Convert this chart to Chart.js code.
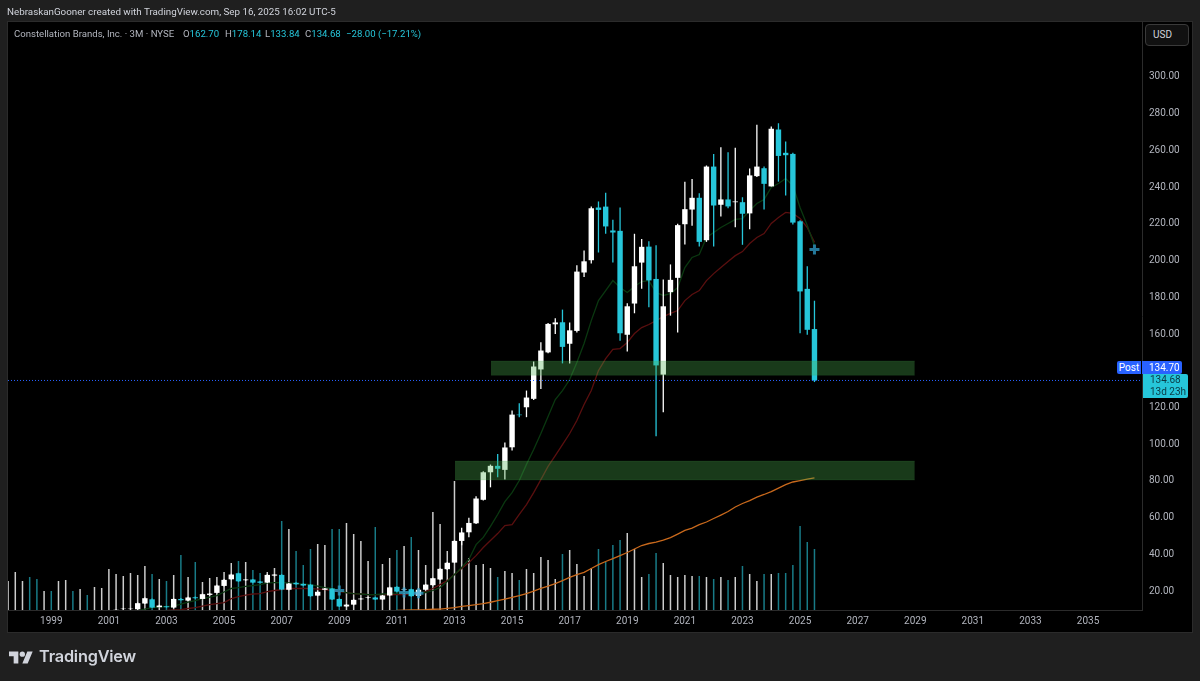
<!DOCTYPE html>
<html><head><meta charset="utf-8">
<script src="https://cdn.jsdelivr.net/npm/chart.js@4"></script>
<style>
html,body{margin:0;padding:0;width:1200px;height:681px;background:#1f1f1f;overflow:hidden;font-family:Roboto,sans-serif}
.a{position:absolute;white-space:pre;line-height:1}
#pane{position:absolute;left:7px;top:21px;width:1184px;height:610px;background:#000;border:1px solid #2b2b2b}
canvas{position:absolute;left:0;top:0}
.t{color:#26c6da}
</style></head><body>
<div id="pane"></div>
<canvas id="c" width="1200" height="681"></canvas>
<div class="a" style="left:7px;top:7px;font-size:9.8px;color:#d1d4dc">NebraskanGooner created with TradingView.com, Sep 16, 2025 16:02 UTC-5</div>
<div class="a" style="left:14px;top:29px;font-size:9.6px;color:#b2b5be">Constellation Brands, Inc. · 3M · NYSE</div>
<div class="a" style="left:183px;top:29px;font-size:9.6px;color:#b2b5be">O<span class="t">162.70</span></div>
<div class="a" style="left:225px;top:29px;font-size:9.6px;color:#b2b5be">H<span class="t">178.14</span></div>
<div class="a" style="left:265px;top:29px;font-size:9.6px;color:#b2b5be">L<span class="t">133.84</span></div>
<div class="a" style="left:305px;top:29px;font-size:9.6px;color:#b2b5be">C<span class="t">134.68</span></div>
<div class="a t" style="left:346px;top:29px;font-size:9.6px">−28.00 (−17.21%)</div>
<div class="a" style="left:1145px;top:24px;width:42px;height:20px;border:1px solid #3a3a3a;border-radius:4px;background:#111;color:#d1d4dc;font-size:10px;line-height:20px;text-indent:7px">USD</div>
<div class="a" style="left:1117px;top:361px;width:24px;height:12.5px;background:#2962ff;border-radius:2px 0 0 2px;color:#fff;font-size:10px;line-height:13px;text-align:center">Post</div>
<div class="a" style="left:1142px;top:361px;width:33px;padding-left:7px;height:12.5px;background:#2962ff;border-radius:0 2px 2px 0;color:#fff;font-size:10px;line-height:13px">134.70</div>
<div class="a" style="left:1143px;top:374px;width:38px;padding-left:7px;height:24px;background:#26c6da;border-radius:0 2px 2px 0;color:#0b3a44;font-size:10px;line-height:12px">134.68
13d 23h</div>
<svg class="a" style="left:9px;top:650px" width="24" height="15" viewBox="0 4 36 18"><path fill="#d1d4dc" d="M14 22H7V11H0V4h14v18zM28 22h-8l7.5-18h8L28 22z"/><circle fill="#d1d4dc" cx="20" cy="8" r="4"/></svg>
<div class="a" style="left:39px;top:648px;font-family:Inter,sans-serif;font-weight:600;font-size:16.3px;letter-spacing:-.2px;color:#d1d4dc">TradingView</div>
<script>
const firstYear = 1997.5;
const candleFirstYear = 2001.25;
const volumeM = [7.25,9.5,7.25,8.25,7.75,4.75,4.75,7.25,7.5,4.75,5.25,3.75,5.75,5.5,10.25,9,8.5,9.25,8.75,11,9,7.75,7.25,8.75,13.75,8.25,12,7,8,8.25,9.5,11.75,12.25,12,10,9.25,9.5,10.5,
22.25,20.25,14.75,11.25,15.25,16.5,16.25,20.25,20.25,21.75,19,17.25,12.25,20.75,11.5,13,15,16,18.25,15,11.25,24.5,21.5,14.75,32.25,
19.5,13,11.25,11.5,10.5,8.25,9.75,9.25,7.5,10.25,9.25,13.25,12.5,7.75,14,15,11.5,8.5,10.5,15.25,12,16.25,17.5,19.25,15.25,8.25,9,14.25,11.75,8.75,8.25,8.75,8.5,8.5,8.25,7.75,8.25,7.5,8.25,11,9,7.25,9,9,9.25,9.25,11.25,21,17,15.25];
const earlyVolumeDown = [0,0,0,1,1,0,1,0,0,1,0,1,0,0,0];
const open = [9.6,10.2,10.2,10.1,13.2,15.5,11.2,11.7,11,15.7,14.8,16.6,15.7,17.9,19,22.8,26.4,29.7,25.9,26.3,25.2,24.6,28.4,28.8,20.7,24.5,23.9,23.5,17.5,20.7,21.4,15.7,11.6,12.6,15.5,16.3,16.5,15.4,17.6,22.3,20.7,21,17.4,20.7,23.2,26.3,31.9,35.5,47.3,52,56.9,69.7,84.7,88.2,86,98.3,116.1,120.1,124.7,140.7,150,165.3,166.4,154.7,161.7,193.5,200.2,228.9,229.4,216.4,216.2,159.6,176.6,198.9,207.6,190,137.9,182.8,190.6,219.8,227.8,234.2,211.1,251.2,230.4,233.3,231.8,231.8,225.7,246,250.3,240.4,271.4,258.7,258.1,221.4,184.6,162.7];
const high = [9.9,10.6,10.6,13.8,16.5,16,12.5,12,16,16.2,16.9,17,18.6,18.9,23.4,26.5,29.4,30,26.6,26.6,25.5,29.1,29.3,29.1,24.4,24.8,24.2,23.8,19.9,21.7,21.7,16,12.9,15.5,16.2,16.9,16.8,17.9,22.3,22.6,21.5,21.3,21,23.8,27.3,32.4,35.8,47.7,54.5,59.9,71.6,85.3,88.9,94.7,100.9,118.3,122.3,129.2,145,155.5,166,168.6,173.3,166.3,197.5,205.5,229.4,232.2,236.9,222.3,228.9,176.8,214.6,211.8,210.5,208.4,189.7,197.9,220,243,244.5,236.7,251.8,258.1,261.7,259,261.4,234.5,250.2,274,251.2,273,274.8,264.9,258.7,221.9,196.9,178.14];
const low = [9.4,10,10,9.9,13,10.8,11,11,10.8,14.8,14.6,15.8,15.5,17.6,18.8,22.5,26.2,25,25.5,24.3,24.2,24.4,28,20.5,20.4,23.4,22.7,16.9,17.2,20.4,15.1,11.3,11.3,12.3,15.2,16,15.1,15.1,17.3,19.4,20.4,16.9,17.1,20.4,22.9,26,31.5,35.2,45,49.3,56.5,69.3,76.5,82,80.7,96.5,114.7,114.7,124,130,149.5,160,144,144,160.8,191,198.4,204.4,214.6,199,156.4,150.5,171.3,184.6,174.6,104.3,117.4,170,160.8,208.8,219,207.7,210.2,207.7,224,228.5,218.2,208.6,217,245.5,227.8,240.4,243,235.4,219.7,160.4,159.6,133.84];
const close = [9.8,10.4,10.4,13.4,16.1,11,12.1,11.2,15.7,15,16.5,16.1,18.3,18.6,23,26.1,29,25.3,26.3,24.6,24.5,28.8,29,20.8,24.1,23.7,23,17.2,19.6,21.4,15.4,11.6,12.6,15.2,15.9,16.6,15.4,17.6,22,19.7,21,17.2,20.7,23.5,27,32.1,35.4,47.3,51.9,57.1,70.4,84.7,88.2,86.6,98.2,116.1,115.8,125.4,142.3,151,165.5,166.3,153,162,194,199.6,228.5,227.6,218.6,215.3,160.4,175.1,196.9,207.5,189.2,142.9,175.1,189.5,219.3,228,234.2,210.2,251.2,230,233.3,229.5,232.2,225.5,246.4,251.2,241.8,271.8,257,257.4,220.7,183.2,162.3,134.68];
const maGreenStart = 2002;
const maGreen = [9.4,10.2,11,11.3,11.6,11.8,12.9,14,14.8,15.9,16.7,17.5,19.5,21.4,21.9,22.5,23,23.5,24.4,24.6,24.6,24.4,24.1,23.8,23.5,22.7,21.9,21.4,20.3,19.2,18.6,18.4,18.1,18.1,18.4,18.6,18.9,19.2,19.2,19.2,19.2,20.3,21.9,25.2,29,32.8,37.2,45.3,49.2,55.2,61.7,68.7,73.6,80.2,89,97.1,105.8,115.1,124.3,129.2,135.2,144.5,154.8,167.3,178.2,183.7,189.1,185.3,182.6,185.9,188.6,189.1,182.6,181,182,185.3,196.2,201.7,203.3,212.6,215.3,218,220.2,222.4,222.9,227.3,231.1,233.3,239.8,242,244.7,240.9,228.9,219.1,208.2];
const maRedStart = 2003;
const maRed = [9.4,9.7,9.9,10.5,11,11.8,12.6,13.2,13.7,15.9,17,17.8,18.4,18.6,19.7,20.3,20.8,21.4,21.4,21.4,21.4,21.1,20.8,20.3,19.7,19.2,18.6,18.4,18.1,18.1,18.1,18.1,18.1,18.1,18.4,18.6,19.7,21.4,23.5,25.7,29,32.3,35.5,39.3,43.7,47.5,51.3,55.7,56.2,61.7,67.1,73.6,80.7,87.9,93.8,99.8,105.8,112.9,121.6,129.2,140.1,146.6,151.6,152.1,155.4,160.3,163.5,165.2,167.3,169.5,171.2,172.8,178.2,181.5,183.7,189.1,192.9,196.2,199.5,202.7,204.9,209.3,212.6,214.7,220.2,223.5,226.2,225.7,222.9,218,209.9];
const maOrangeStart = 2011;
const maOrange = [9.5,9.6,9.7,9.8,9.9,10.1,10.2,10.6,11,11.6,12.1,12.6,13.2,13.9,14.8,15.6,16.5,17.5,18.6,20,21.4,22.7,24.1,25.7,27.4,29,30.2,32.3,34.4,36.1,37.7,39.3,41,42.9,44.8,45.9,46.6,47.8,49.1,51,53,54.3,56.2,57.6,59.5,61.4,63.3,65.8,67.7,69.3,71.2,72.6,74.2,76.1,78,79.4,80.2,81,81.7];
const crossYears = [2009,2011.25,2011.75,2025.5];
const crossPrices = [20.3,19.2,18.8,206.1];
const zones = [{from:2014.268,to:2028.983,low:137.5,high:145.3},{from:2013.018,to:2028.983,low:80.5,high:90.8}];
const postPrice = 134.70;
const priceTicks = [20,40,60,80,100,120,160,180,200,220,240,260,280,300];
const yearTicks = [1999,2001,2003,2005,2007,2009,2011,2013,2015,2017,2019,2021,2023,2025,2027,2029,2031,2033,2035];
const TEAL='#26c6da', WHITE='#ffffff';
const xMin=1997.497,xMax=2036.873,yMin=9.68,yMax=329.95,volMax=147;
const candleIdx=open.map((_,i)=>i);
const cx=i=>candleFirstYear+i/4;
const isDown=i=>close[i]<open[i];
const volDown=volumeM.map((_,i)=>i<earlyVolumeDown.length?!!earlyVolumeDown[i]:isDown(i-earlyVolumeDown.length));
const series=(arr,start)=>arr.map((y,i)=>({x:start+i/4,y}));
const ma=(arr,start,color)=>({type:'line',data:series(arr,start),borderColor:color,borderWidth:1.3,pointRadius:0,tension:0,order:8,yAxisID:'y'});
const zoneDs=[];
zones.forEach(z=>{
  zoneDs.push({type:'line',data:[{x:z.from,y:z.high},{x:z.to,y:z.high}],borderColor:'rgba(76,175,80,0.12)',borderWidth:1,pointRadius:0,fill:'+1',backgroundColor:'rgba(76,175,80,0.33)',order:3,yAxisID:'y'});
  zoneDs.push({type:'line',data:[{x:z.from,y:z.low},{x:z.to,y:z.low}],borderColor:'rgba(76,175,80,0.12)',borderWidth:1,pointRadius:0,fill:false,order:3,yAxisID:'y'});
});
new Chart(document.getElementById('c'),{
  data:{datasets:[
    {type:'bar',data:volumeM.map((v,i)=>({x:firstYear+i/4,y:v})),backgroundColor:volDown.map(d=>d?'rgba(38,198,218,0.62)':'rgba(255,255,255,0.8)'),barThickness:1.5,grouped:false,inflateAmount:0,order:10,yAxisID:'y1'},
    ma(maGreen,maGreenStart,'#0a3810'),
    ma(maRed,maRedStart,'#5a0f0f'),
    ma(maOrange,maOrangeStart,'#c9691c'),
    {type:'bar',data:candleIdx.map(i=>({x:cx(i),y:[low[i],high[i]]})),backgroundColor:candleIdx.map(i=>isDown(i)?TEAL:WHITE),barThickness:1.3,grouped:false,inflateAmount:0,order:6,yAxisID:'y'},
    {type:'bar',data:candleIdx.map(i=>({x:cx(i),y:[open[i],close[i]]})),backgroundColor:candleIdx.map(i=>isDown(i)?TEAL:WHITE),barThickness:5.4,grouped:false,inflateAmount:0,order:5,yAxisID:'y'},
    ...zoneDs,
    {type:'line',data:[{x:xMin,y:postPrice},{x:xMax,y:postPrice}],borderColor:'#2962ff',borderWidth:1,borderDash:[1,2],pointRadius:0,order:2,yAxisID:'y'},
    {type:'scatter',data:crossYears.map((x,i)=>({x,y:crossPrices[i]})),pointStyle:'cross',pointRadius:5,pointBorderColor:'rgba(50,160,205,0.75)',pointBorderWidth:3,showLine:false,order:1,yAxisID:'y'}
  ]},
  options:{
    responsive:false,animation:false,devicePixelRatio:1,
    layout:{padding:{left:8,top:22,right:8,bottom:49}},
    plugins:{legend:{display:false},tooltip:{enabled:false},title:{display:false}},
    scales:{
      x:{type:'linear',position:'bottom',min:xMin,max:xMax,offset:false,
        grid:{display:false,drawTicks:false},border:{display:true,color:'#2b2b2b'},
        afterFit(s){s.height=22;},
        afterBuildTicks(s){s.ticks=yearTicks.map(v=>({value:v}));},
        ticks:{autoSkip:false,maxRotation:0,minRotation:0,padding:5,color:'#b2b5be',font:{family:'Roboto',size:10},callback:v=>String(v)}},
      y:{type:'linear',position:'right',min:yMin,max:yMax,
        grid:{display:false,drawTicks:false},border:{display:true,color:'#2b2b2b'},
        afterFit(s){s.width=50;},
        afterBuildTicks(s){s.ticks=priceTicks.map(v=>({value:v}));},
        ticks:{autoSkip:false,padding:7,color:'#b2b5be',font:{family:'Roboto',size:10},callback:v=>Number(v).toFixed(2)}},
      y1:{type:'linear',display:false,min:0,max:volMax,grid:{display:false}}
    }
  }
});
</script>
</body></html>
